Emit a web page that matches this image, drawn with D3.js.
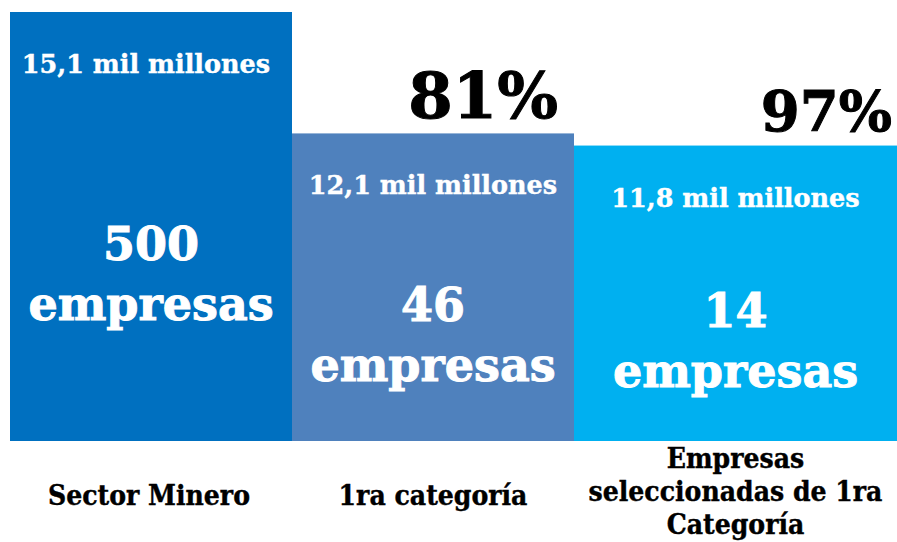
<!DOCTYPE html>
<html>
<head>
<meta charset="utf-8">
<script src="https://cdn.jsdelivr.net/npm/d3@7"></script>
<style>
  html, body { margin: 0; padding: 0; background: #ffffff; }
  svg { display: block; }
</style>
</head>
<body>
<svg id="chart" width="897" height="542"></svg>
<script>
// ---- data ----
const categories = ["Sector Minero", "1ra categoría", "Empresas seleccionadas de 1ra Categoría"];
const categoryLines = [["Sector Minero"], ["1ra categoría"], ["Empresas", "seleccionadas de 1ra", "Categoría"]];
const valuesMilMillones = [15.1, 12.1, 11.8];
const valueLabels = ["15,1 mil millones", "12,1 mil millones", "11,8 mil millones"];
const empresas = [500, 46, 14];
const shareLabels = ["", "81%", "97%"];
const barColors = ["#0070C0", "#4F81BD", "#00B0F0"];

// ---- layout ----
const W = 897, H = 542;
const plotLeft = 10, plotRight = 856, baseY = 441, topY = 12;
const svg = d3.select("#chart");

const x = d3.scaleBand().domain(categories).range([plotLeft, plotRight]).paddingInner(0).paddingOuter(0);
const y = d3.scaleLinear().domain([4.5, 15.1]).range([baseY, topY]);

const rows = categories.map((c, i) => {
  const x0 = x(c);
  const x1 = i === categories.length - 1 ? W : x0 + x.bandwidth();
  return { c, i, x0, x1, cx: (x0 + x1) / 2, top: y(valuesMilMillones[i]) };
});

const serif = "'DejaVu Serif', serif";

svg.selectAll("rect.bar").data(rows).join("rect")
  .attr("class", "bar")
  .attr("x", d => d.x0)
  .attr("y", d => d.top)
  .attr("width", d => d.x1 - d.x0)
  .attr("height", d => baseY - d.top)
  .attr("fill", (d, i) => barColors[i]);

const valOff = 61;
// value labels
svg.selectAll("text.val").data(rows).join("text")
  .attr("class", "val")
  .attr("x", d => d.cx - (d.i === 0 ? 5 : 0))
  .attr("y", d => d.top + valOff)
  .attr("text-anchor", "middle")
  .attr("font-family", serif).attr("font-weight", "bold").attr("font-size", 25.5)
  .attr("fill", "#ffffff").attr("stroke", "#ffffff").attr("stroke-width", 0.4)
  .text((d, i) => valueLabels[i]);

// empresas counts
const g = svg.selectAll("g.cnt").data(rows).join("g").attr("class", "cnt");
g.append("text")
  .attr("x", d => d.cx)
  .attr("y", d => ((d.top + valOff) + baseY) / 2 + 3)
  .attr("text-anchor", "middle")
  .attr("font-family", serif).attr("font-weight", "bold").attr("font-size", 46)
  .attr("fill", "#ffffff").attr("stroke", "#ffffff").attr("stroke-width", 1)
  .text((d, i) => empresas[i]);
g.append("text")
  .attr("x", d => d.cx)
  .attr("y", d => ((d.top + valOff) + baseY) / 2 + 63)
  .attr("text-anchor", "middle")
  .attr("font-family", serif).attr("font-weight", "bold").attr("font-size", 46)
  .attr("fill", "#ffffff").attr("stroke", "#ffffff").attr("stroke-width", 1)
  .text("empresas");

// share labels
svg.selectAll("text.share").data(rows.filter(d => shareLabels[d.i])).join("text")
  .attr("class", "share")
  .attr("x", d => d.x1 - (d.i === 1 ? 16 : 5))
  .attr("y", d => d.top - 15)
  .attr("text-anchor", "end")
  .attr("font-family", serif).attr("font-weight", "bold")
  .attr("font-size", d => d.i === 1 ? 64 : 56)
  .attr("fill", "#000000").attr("stroke", "#000000").attr("stroke-width", 1)
  .text(d => shareLabels[d.i]);

// category labels
const lineH = 33, midY = 501;
const cat = svg.selectAll("text.cat").data(rows).join("text")
  .attr("class", "cat")
  .attr("text-anchor", "middle")
  .attr("font-family", "'DejaVu Serif Condensed', 'DejaVu Serif', serif")
  .attr("font-weight", "bold").attr("font-size", 28)
  .attr("fill", "#000000").attr("stroke", "#000000").attr("stroke-width", 0.4);
cat.each(function(d) {
  const lines = categoryLines[d.i];
  const n = lines.length;
  d3.select(this).selectAll("tspan").data(lines).join("tspan")
    .attr("x", d.cx - (d.i === 0 ? 2 : 0))
    .attr("y", (l, k) => midY + (n === 1 ? 4 : 0) + (k - (n - 1) / 2) * lineH)
    .text(l => l);
});
</script>
</body>
</html>
